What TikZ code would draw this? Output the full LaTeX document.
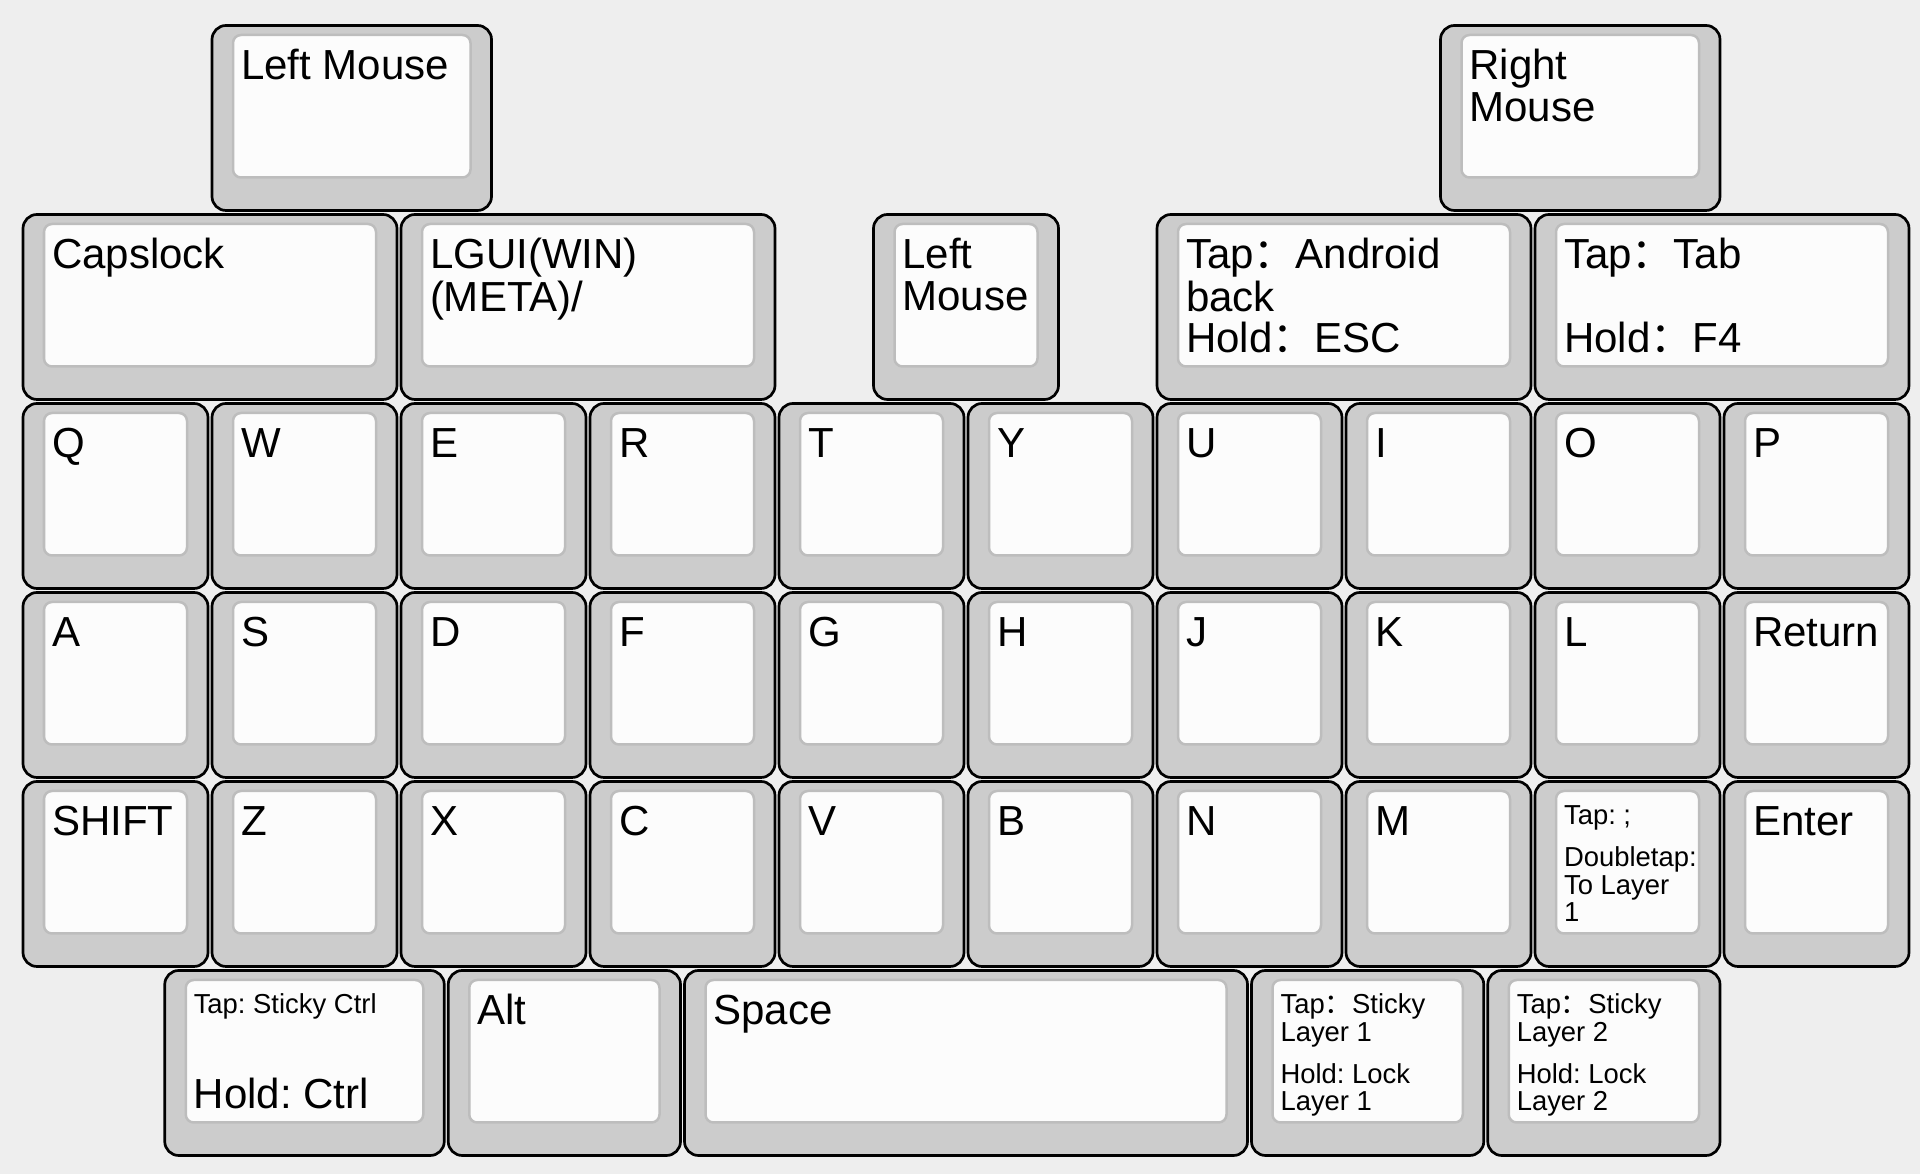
\documentclass[tikz,border=0pt]{standalone}
\usepackage{fontspec}
\setmainfont{Liberation Sans}
\newfontfamily\cjk{Noto Sans CJK SC}
\frenchspacing
\newcommand\bigf{\fontsize{11.95pt}{11.95pt}\selectfont}
\newcommand\smf{\fontsize{7.8pt}{7.95pt}\selectfont}
\newcommand\fwc{{\cjk ：}}
\definecolor{bgcol}{HTML}{EEEEEE}
\definecolor{keycap}{HTML}{CCCCCC}
\definecolor{keytop}{HTML}{FCFCFC}
\definecolor{keyedge}{HTML}{BDBDBD}
% key cell: name, u, v, w, h
\newcommand\kbkey[5]{%
  \draw[keyouter] ({21+189*#2+2},{23.5+189*#3+2}) rectangle ({21+189*(#2+#4)-2},{23.5+189*(#3+#5)-2});
  \draw[keyinner] ({21+189*#2+23},{23.5+189*#3+11.5}) rectangle ({21+189*(#2+#4)-23},{23.5+189*(#3+#5)-35});
  \coordinate (#1) at ({21+189*#2},{23.5+189*#3});
}
\newcommand\toplab[3]{\path (#1) ++(31,56) node[lbl] (#2) {\bigf\frenchspacing\begin{tabular}[t]{@{}l@{}}#3\end{tabular}};}
\newcommand\toplabs[3]{\path (#1) ++(31,45.5) node[lbl] (#2) {\smf\frenchspacing\begin{tabular}[t]{@{}l@{}}#3\end{tabular}};}
\newcommand\botlab[3]{\path (#1) ++(31,140.5) node[lbl] (#2) {\bigf\frenchspacing\begin{tabular}[b]{@{}l@{}}#3\end{tabular}};}
\newcommand\botlabs[3]{\path (#1) ++(31,142.5) node[lbl] (#2) {\smf\frenchspacing\begin{tabular}[b]{@{}l@{}}#3\end{tabular}};}
\begin{document}
\begin{tikzpicture}[x=0.01cm,y=-0.01cm,
  keyouter/.style={draw=black, fill=keycap, line width=0.027cm, rounded corners=0.14cm},
  keyinner/.style={draw=keyedge, fill=keytop, line width=0.025cm, rounded corners=0.08cm},
  lbl/.style={inner sep=0pt, outer sep=0pt, anchor=base west, text=black}]
\useasboundingbox (0,0) rectangle (1920,1174);
\fill[bgcol] (0,0) rectangle (1920,1174);
% row 0
\kbkey{lm}{1}{0}{1.5}{1}\toplab{lm}{lm-t}{Left Mouse}
\kbkey{rm}{7.5}{0}{1.5}{1}\toplab{rm}{rm-t}{Right\\Mouse}
% row 1
\kbkey{caps}{0}{1}{2}{1}\toplab{caps}{caps-t}{Capslock}
\kbkey{lgui}{2}{1}{2}{1}\toplab{lgui}{lgui-t}{LGUI(WIN)\\(META)/}
\kbkey{lmb}{4.5}{1}{1}{1}\toplab{lmb}{lmb-t}{Left\\Mouse}
\kbkey{andr}{6}{1}{2}{1}\toplab{andr}{andr-t}{Tap\fwc Android\\back}\botlab{andr}{andr-b}{Hold\fwc ESC}
\kbkey{tab}{8}{1}{2}{1}\toplab{tab}{tab-t}{Tap\fwc Tab}\botlab{tab}{tab-b}{Hold\fwc F4}
% row 2
\foreach \l [count=\i from 0] in {Q,W,E,R,T,Y,U,I,O,P}{\kbkey{r2k\i}{\i}{2}{1}{1}\toplab{r2k\i}{r2k\i-t}{\l}}
% row 3
\foreach \l [count=\i from 0] in {A,S,D,F,G,H,J,K,L,Return}{\kbkey{r3k\i}{\i}{3}{1}{1}\toplab{r3k\i}{r3k\i-t}{\l}}
% row 4
\foreach \l [count=\i from 0] in {SHIFT,Z,X,C,V,B,N,M}{\kbkey{r4k\i}{\i}{4}{1}{1}\toplab{r4k\i}{r4k\i-t}{\l}}
\kbkey{semi}{8}{4}{1}{1}\toplabs{semi}{semi-t}{Tap: ;}\botlabs{semi}{semi-b}{Doubletap:\\To Layer\\1}
\kbkey{enter}{9}{4}{1}{1}\toplab{enter}{enter-t}{Enter}
% row 5
\kbkey{ctrl}{0.75}{5}{1.5}{1}\toplabs{ctrl}{ctrl-t}{Tap: Sticky Ctrl}\botlab{ctrl}{ctrl-b}{Hold: Ctrl}
\kbkey{alt}{2.25}{5}{1.25}{1}\toplab{alt}{alt-t}{Alt}
\kbkey{space}{3.5}{5}{3}{1}\toplab{space}{space-t}{Space}
\kbkey{lay1}{6.5}{5}{1.25}{1}\toplabs{lay1}{lay1-t}{Tap\fwc Sticky\\Layer 1}\botlabs{lay1}{lay1-b}{Hold: Lock\\Layer 1}
\kbkey{lay2}{7.75}{5}{1.25}{1}\toplabs{lay2}{lay2-t}{Tap\fwc Sticky\\Layer 2}\botlabs{lay2}{lay2-b}{Hold: Lock\\Layer 2}
\end{tikzpicture}
\end{document}
